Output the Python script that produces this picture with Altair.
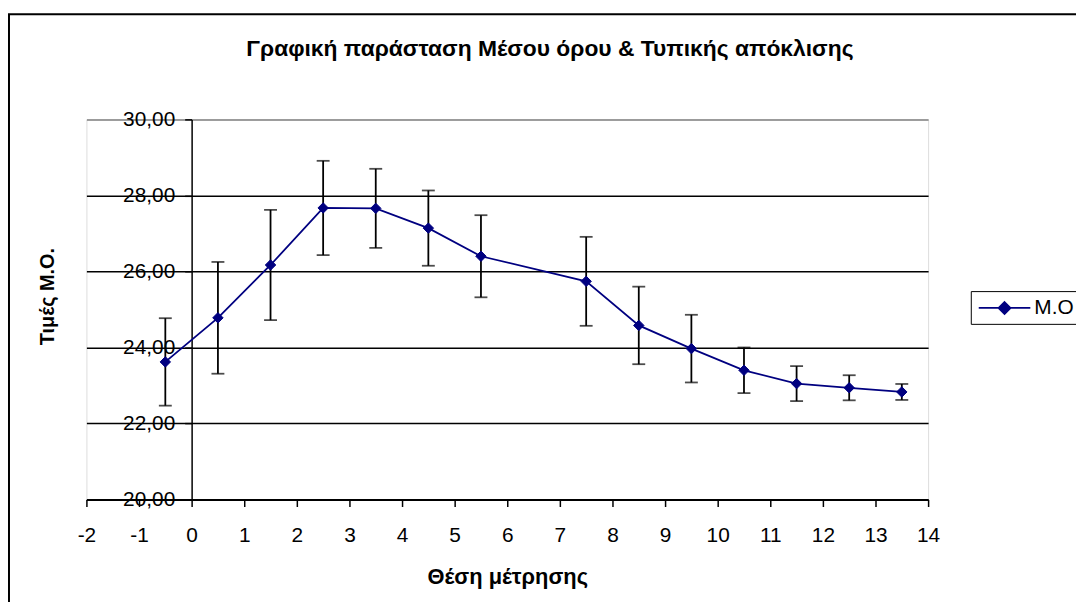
import altair as alt
import pandas as pd

positions = [-0.5, 0.5, 1.5, 2.5, 3.5, 4.5, 5.5, 7.5, 8.5, 9.5, 10.5, 11.5, 12.5, 13.5]
means = [23.62, 24.78, 26.17, 27.67, 27.66, 27.14, 26.40, 25.74, 24.58, 23.97, 23.40, 23.05, 22.94, 22.83]
sds = [1.15, 1.47, 1.45, 1.24, 1.04, 0.99, 1.08, 1.17, 1.02, 0.89, 0.60, 0.46, 0.33, 0.21]
series_name = "M.O"
x_ticks = list(range(-2, 15))
y_ticks = [20, 22, 24, 26, 28, 30]
title_text = "Γραφική παράσταση Μέσου όρου & Τυπικής απόκλισης"

df = pd.DataFrame({
    "pos": positions,
    "mean": means,
    "lo": [m - s for m, s in zip(means, sds)],
    "hi": [m + s for m, s in zip(means, sds)],
    "series": [series_name] * len(positions),
})

FONT = "Liberation Sans"
NAVY = "#000080"

xscale = alt.Scale(domain=[-2, 14], nice=False, zero=False)
yscale = alt.Scale(domain=[20, 30], nice=False, zero=False)

xaxis = alt.Axis(
    values=x_ticks, title="Θέση μέτρησης", grid=False,
    labelExpr="datum.value < 0 ? '-' + abs(datum.value) : '' + datum.value",
    domainColor="black", domainWidth=2, tickColor="black", tickWidth=1.5, tickSize=7,
    labelFontSize=21, labelFont=FONT, labelColor="black", labelPadding=18, labelFlush=False,
    titleFontSize=22, titleFont=FONT, titleFontWeight="bold", titleColor="black", titlePadding=22,
)
yaxis = alt.Axis(
    values=y_ticks, title="Τιμές  Μ.Ο.", offset=-106,
    labelExpr="replace(format(datum.value, '.2f'), '.', ',')",
    domainColor="black", domainWidth=1.5, tickColor="black", tickWidth=1.5, tickSize=7,
    labelFontSize=21, labelFont=FONT, labelColor="black", labelPadding=10,
    grid=True, gridColor={"condition": {"test": "datum.value >= 30", "value": "#808080"}, "value": "black"},
    gridWidth=1.5,
    titleFontSize=20, titleFont=FONT, titleFontWeight="bold", titleColor="black",
    titleX=-145, titleY=178, titleAngle=270, titleAlign="center", titleBaseline="middle",
)

base = alt.Chart(df)

bars = base.mark_rule(color="black", strokeWidth=1.8).encode(
    x=alt.X("pos:Q", scale=xscale, axis=xaxis),
    y=alt.Y("lo:Q", scale=yscale, axis=yaxis),
    y2="hi:Q",
)

caps = base.transform_fold(["lo", "hi"], as_=["end", "val"]).mark_tick(
    orient="horizontal", color="black", size=13, thickness=1.8
).encode(
    x=alt.X("pos:Q", scale=xscale),
    y=alt.Y("val:Q", scale=yscale),
)

line = base.mark_line(color=NAVY, strokeWidth=1.8).encode(
    x=alt.X("pos:Q", scale=xscale),
    y=alt.Y("mean:Q", scale=yscale),
)

legend_path = "M-0.9,0L4.3,0M1.7,-0.6L2.3,0L1.7,0.6L1.1,0Z"
legend = alt.Legend(
    title=None, orient="none", legendX=891, legendY=173,
    symbolType=legend_path, symbolSize=400, symbolStrokeWidth=1.8,
    labelFontSize=21, labelFont=FONT, labelColor="black", labelOffset=36,
    labelExpr="datum.label + '          '",
    strokeColor="black", padding=6, fillColor="white",
)

points = base.mark_point(shape="diamond", filled=True, size=110, strokeWidth=1, opacity=1).encode(
    x=alt.X("pos:Q", scale=xscale),
    y=alt.Y("mean:Q", scale=yscale),
    fill=alt.Fill("series:N", scale=alt.Scale(range=[NAVY]), legend=legend),
    stroke=alt.Stroke("series:N", scale=alt.Scale(range=[NAVY]), legend=legend),
)

one = alt.Data(values=[{"t": title_text}])
frame_left = alt.Chart(one).mark_rule(color="black", strokeWidth=2).encode(
    x=alt.value(-78), y=alt.value(-106), y2=alt.value(600)
)
frame_top = alt.Chart(one).mark_rule(color="black", strokeWidth=2).encode(
    x=alt.value(-79), x2=alt.value(1100), y=alt.value(-106)
)
title = alt.Chart(one).mark_text(
    font=FONT, fontSize=23, fontWeight="bold", color="black", align="center", baseline="middle"
).encode(text="t:N", x=alt.value(467), y=alt.value(-71))

chart = alt.layer(frame_left, frame_top, title, bars, caps, line, points).properties(
    width=848, height=383,
    autosize=alt.AutoSizeParams(type="none"),
    padding={"left": 79, "top": 110, "right": 149, "bottom": 101},
).configure_view(
    fill="#C0C0C0", stroke="#808080", strokeWidth=2
).configure(background="white")

chart.save("out.html", embed_options={"renderer": "svg", "actions": False})
